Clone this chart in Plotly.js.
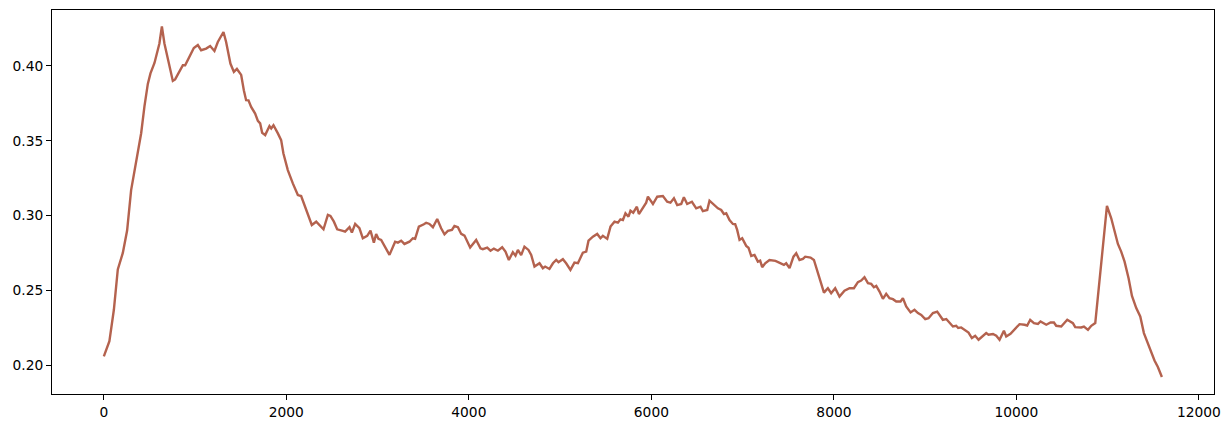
<!DOCTYPE html>
<html>
<head>
<meta charset="utf-8">
<script src="https://cdn.plot.ly/plotly-3.0.1.min.js"></script>
<style>
html,body{margin:0;padding:0;background:#fff;}
#chart{width:1230px;height:428px;}
</style>
</head>
<body>
<div id="chart"></div>
<script>
const xValues = [0,61,110,153,208,255,299,354,409,445,482,511,555,609,636,664,708,756,781,818,866,891,938,986,1030,1066,1121,1165,1212,1249,1311,1340,1387,1425,1458,1505,1534,1559,1585,1614,1658,1688,1713,1735,1768,1815,1834,1859,1907,1943,1968,
2016,2071,2126,2162,2198,2236,2279,2327,2374,2407,2455,2483,2521,2557,2619,2644,2692,2718,2754,2801,2838,2886,2922,2959,2984,3009,3039,3083,3130,3192,3222,3258,3294,3349,3386,3411,3452,3507,3532,3568,3606,3653,3696,3733,3770,3814,3842,3880,3916,3952,3981,4014,4080,4127,
4153,4201,4237,4274,4318,4365,4401,4438,4482,4511,4537,4573,4609,4653,4683,4719,4774,4811,4836,4883,4921,4957,4982,5030,5066,5113,5157,5195,5249,5286,5311,5359,5406,5442,5468,5516,5552,5596,5633,5661,5688,5716,5749,5771,5801,5841,5863,5907,5943,5962,6017,6064,6126,
6173,6209,6247,6283,6327,6356,6392,6444,6491,6538,6564,6612,6637,6685,6729,6765,6795,6820,6856,6893,6918,6940,6966,6995,7039,7064,7094,7130,7167,7192,7214,7247,7294,7360,7415,7452,7477,7514,7557,7587,7623,7660,7686,7744,7781,7814,7842,7861,7891,7934,7970,8014,8061,8116,8171,8219,
8263,8299,8335,8373,8409,8438,8464,8500,8537,8573,8609,8647,8683,8730,8756,8792,8840,8883,8921,8957,9001,9037,9085,9132,9157,9194,9231,9267,9304,9340,9362,9395,9431,9475,9512,9548,9585,9633,9669,9694,9743,9779,9815,9863,9888,9935,9979,10034,10089,10118,10151,10192,10236,10264,
10327,10374,10411,10436,10491,10557,10619,10644,10710,10740,10784,10820,10864,10900,10948,10992,11039,11075,11112,11148,11185,11229,11266,11313,11357,11397,11441,11477,11513,11550,11594];

const yValues = [0.2058,0.216,0.237,0.264,0.275,0.290,0.317,0.335,0.355,0.373,0.388,0.395,0.402,0.415,0.4265,0.415,0.404,0.390,0.391,0.395,0.4005,0.4005,0.406,0.412,0.414,0.4105,0.4116,0.4133,0.410,0.416,0.4227,0.416,0.4016,0.396,0.398,0.394,0.3838,0.3771,0.377,0.3726,0.3682,0.3633,0.3616,0.3553,0.3538,0.3598,0.3582,0.3604,0.3549,0.3504,0.3415,
0.3304,0.3215,0.3137,0.3130,0.3070,0.3015,0.2937,0.2959,0.2926,0.2908,0.3004,0.2997,0.2959,0.2908,0.2897,0.2892,0.2922,0.2886,0.2944,0.2915,0.2848,0.2864,0.2899,0.2819,0.2877,0.2844,0.2837,0.2792,0.2737,0.2825,0.2819,0.2832,0.2810,0.2825,0.2848,0.2844,0.2926,0.2942,0.2952,0.2944,0.2922,0.2977,0.2915,0.2875,0.2897,0.2904,0.2930,0.2922,0.2877,0.2866,0.2826,0.2786,0.2837,0.2781,
0.2775,0.2785,0.2765,0.2779,0.2765,0.2788,0.2759,0.2703,0.2755,0.2732,0.2770,0.2735,0.2792,0.2770,0.2737,0.2659,0.2681,0.2648,0.2659,0.2643,0.2681,0.2703,0.2688,0.2708,0.2681,0.2637,0.2685,0.2681,0.2752,0.2759,0.2832,0.2859,0.2877,0.2848,0.2864,0.2844,0.2926,0.2959,0.2952,0.2975,0.2970,0.3015,0.2992,0.3032,0.3019,0.3059,0.3010,0.3048,0.3086,0.3126,0.3077,0.3126,0.3130,
0.3092,0.3086,0.3115,0.3070,0.3077,0.3122,0.3077,0.3092,0.3048,0.3059,0.3030,0.3037,0.3099,0.3075,0.3048,0.3037,0.3010,0.3015,0.2970,0.2944,0.2942,0.2904,0.2837,0.2848,0.2797,0.2785,0.2730,0.2737,0.2692,0.2699,0.2655,0.2681,0.2703,0.2697,0.2681,0.2670,0.2681,0.2648,0.2725,0.2748,0.2703,0.2710,0.2725,0.2719,0.2703,0.2637,0.2588,0.2559,0.2485,0.2514,0.2481,0.2514,0.2458,0.2498,0.2514,0.2514,
0.2555,0.2565,0.2588,0.2548,0.2543,0.2521,0.2530,0.2492,0.2443,0.2477,0.2448,0.2441,0.2425,0.2425,0.2448,0.2392,0.2352,0.2370,0.2348,0.2336,0.2308,0.2314,0.2348,0.2358,0.2336,0.2303,0.2308,0.2281,0.2258,0.2263,0.2248,0.2252,0.2236,0.2218,0.2181,0.2196,0.2170,0.2192,0.2214,0.2203,0.2208,0.2196,0.2170,0.2230,0.2192,0.2210,0.2236,0.2274,0.2270,0.2265,0.2303,0.2281,0.2276,0.2292,
0.2270,0.2285,0.2285,0.2263,0.2258,0.2303,0.2281,0.2254,0.2252,0.2258,0.2236,0.2263,0.2281,0.2503,0.2770,0.3064,0.2982,0.2904,0.2810,0.2759,0.2692,0.2581,0.2463,0.2381,0.2325,0.2214,0.2143,0.2085,0.2031,0.1987,0.1921];

const xTicks = [0,2000,4000,6000,8000,10000,12000];
const yTicks = [0.20,0.25,0.30,0.35,0.40];

const trace = {
  x: xValues,
  y: yValues,
  type: 'scatter',
  mode: 'lines',
  line: {color: 'rgb(180,98,78)', width: 2.4},
  hoverinfo: 'skip'
};

const axisCommon = {
  showgrid: false,
  zeroline: false,
  showline: true,
  mirror: true,
  linecolor: '#000',
  linewidth: 1,
  ticks: 'outside',
  ticklen: 5,
  tickwidth: 1,
  tickcolor: '#000',
  tickfont: {family: 'DejaVu Sans', size: 13.8, color: '#000'}
};

const layout = {
  width: 1230,
  height: 428,
  margin: {l: 52, r: 16, t: 10, b: 34, pad: 0},
  paper_bgcolor: '#fff',
  plot_bgcolor: '#fff',
  showlegend: false,
  xaxis: Object.assign({}, axisCommon, {
    range: [-568, 12165],
    tickvals: xTicks,
    ticktext: xTicks.map(v => String(v))
  }),
  yaxis: Object.assign({}, axisCommon, {
    range: [0.1807, 0.4374],
    tickvals: yTicks,
    ticktext: yTicks.map(v => v.toFixed(2))
  })
};

Plotly.newPlot('chart', [trace], layout, {staticPlot: true, displayModeBar: false});
</script>
</body>
</html>
